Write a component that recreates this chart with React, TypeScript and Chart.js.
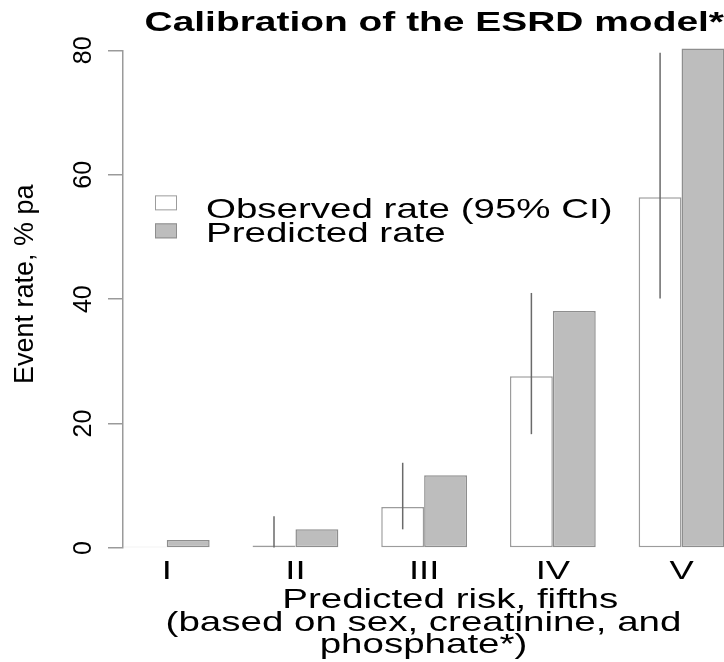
import { useEffect, useRef } from 'react';
import { Chart, registerables } from 'chart.js';

Chart.register(...registerables);

// ---- data ----
const categories = ['I', 'II', 'III', 'IV', 'V'];
const observedRate = [0.2, 0.4, 6.6, 27.6, 56.4];
const observedLower: (number | null)[] = [null, 0.1, 3.0, 18.3, 40.1];
const observedUpper: (number | null)[] = [null, 5.1, 13.7, 41.0, 79.6];
const predictedRate = [1.3, 3.0, 11.7, 38.1, 80.3];
const yTickValues = [0, 20, 40, 60, 80];
const legendLabels = ['Observed rate (95% CI)', 'Predicted rate'];
const chartTitle = 'Calibration of the ESRD model*';
const yTitle = '    Event rate, % pa';
const xTitle = ['     Predicted risk, fifths', '(based on sex, creatinine, and', 'phosphate*)'];

// ---- styling ----
const FONT = "'Liberation Sans', Arial, Helvetica, sans-serif";
const SX = 1.4; // horizontal text in the reference is stretched horizontally
const OBS_FILL = '#ffffff';
const OBS_BORDER = '#9c9c9c';
const PRED_FILL = '#bdbdbd';
const PRED_BORDER = '#8e8e8e';
const AXIS_COLOR = '#9a9a9a';
const ERR_COLOR = '#6a6a6a';

const errorBarPlugin = {
  id: 'errorBars',
  afterDatasetsDraw(chart: any) {
    const { ctx } = chart;
    const meta = chart.getDatasetMeta(0);
    const yScale = chart.scales.y;
    ctx.save();
    ctx.strokeStyle = ERR_COLOR;
    ctx.lineWidth = 1.5;
    meta.data.forEach((bar: any, i: number) => {
      const lo = observedLower[i];
      const hi = observedUpper[i];
      if (lo == null || hi == null) return;
      ctx.beginPath();
      ctx.moveTo(bar.x, yScale.getPixelForValue(lo));
      ctx.lineTo(bar.x, yScale.getPixelForValue(hi));
      ctx.stroke();
    });
    ctx.restore();
  },
};

const legendPlugin = {
  id: 'insetLegend',
  afterDraw(chart: any) {
    const { ctx, chartArea } = chart;
    const x0 = chartArea.left + 32;
    const rows = [
      { top: chartArea.top + 145, baseline: chartArea.top + 168, fill: OBS_FILL, border: OBS_BORDER },
      { top: chartArea.top + 173, baseline: chartArea.top + 192, fill: PRED_FILL, border: PRED_BORDER },
    ];
    ctx.save();
    rows.forEach((r, i) => {
      ctx.fillStyle = r.fill;
      ctx.fillRect(x0, r.top, 22, 15);
      ctx.strokeStyle = r.border;
      ctx.lineWidth = 1;
      ctx.strokeRect(x0 + 0.5, r.top + 0.5, 21, 14);
      ctx.fillStyle = '#000';
      ctx.font = `27.5px ${FONT}`;
      ctx.textAlign = 'left';
      ctx.textBaseline = 'alphabetic';
      ctx.fillText(legendLabels[i], x0 + 51, r.baseline);
    });
    ctx.restore();
  },
};

export default function App() {
  const ref = useRef<HTMLCanvasElement>(null);

  useEffect(() => {
    const canvas = ref.current;
    if (!canvas) return;
    const ctx = canvas.getContext('2d') as any;
    const protoFill = CanvasRenderingContext2D.prototype.fillText;
    ctx.fillText = function (text: string, x: number, y: number, maxWidth?: number) {
      const m = this.getTransform();
      if (Math.abs(m.b) < 1e-6 && Math.abs(m.c) < 1e-6) {
        this.save();
        this.translate(x, y);
        this.scale(SX, 1);
        if (maxWidth === undefined || maxWidth === null) protoFill.call(this, text, 0, 0);
        else protoFill.call(this, text, 0, 0, maxWidth / SX);
        this.restore();
      } else if (maxWidth === undefined || maxWidth === null) {
        protoFill.call(this, text, x, y);
      } else {
        protoFill.call(this, text, x, y, maxWidth);
      }
    };

    const chart = new Chart(canvas, {
      type: 'bar',
      data: {
        datasets: [
          {
            label: legendLabels[0],
            data: observedRate.map((v, i) => ({ x: i, y: v })),
            backgroundColor: OBS_FILL,
            borderColor: OBS_BORDER,
            borderWidth: 1.5,
            borderSkipped: false,
            categoryPercentage: 2 / 3,
            barPercentage: 1,
            clip: false,
          },
          {
            label: legendLabels[1],
            data: predictedRate.map((v, i) => ({ x: i, y: v })),
            backgroundColor: PRED_FILL,
            borderColor: PRED_BORDER,
            borderWidth: 1.5,
            borderSkipped: false,
            categoryPercentage: 2 / 3,
            barPercentage: 1,
            clip: false,
          },
        ],
      },
      options: {
        responsive: false,
        animation: false,
        devicePixelRatio: 1,
        events: [],
        layout: { padding: { left: 9, right: 0, top: 0, bottom: 0 } },
        plugins: {
          legend: { display: false },
          tooltip: { enabled: false },
          title: {
            display: true,
            text: chartTitle,
            align: 'end',
            color: '#000',
            font: { family: FONT, size: 27.8, weight: 'bold' },
            padding: { top: 7, bottom: 10 },
          },
        },
        scales: {
          x: {
            type: 'linear',
            min: -0.34,
            max: 4.33,
            offset: false,
            bounds: 'data',
            grid: { display: false, drawTicks: false, offset: false },
            border: { display: false },
            afterBuildTicks: (scale: any) => {
              scale.ticks = categories.map((_, i) => ({ value: i }));
            },
            ticks: {
              autoSkip: false,
              maxRotation: 0,
              minRotation: 0,
              padding: 8,
              color: '#000',
              font: { family: FONT, size: 26 },
              callback: (v: any) => categories[Math.round(Number(v))] ?? '',
            },
            title: {
              display: true,
              text: xTitle,
              color: '#000',
              font: { family: FONT, size: 27.5, lineHeight: 0.82 },
              padding: { top: 0, bottom: 5 },
            },
            afterFit: (scale: any) => {
              scale.height = 114;
            },
          },
          y: {
            type: 'linear',
            position: 'left',
            min: 0,
            max: 80,
            afterBuildTicks: (scale: any) => {
              scale.ticks = yTickValues.map((v) => ({ value: v }));
            },
            afterCalculateLabelRotation: (scale: any) => {
              scale.labelRotation = 90;
            },
            grid: {
              display: true,
              drawOnChartArea: false,
              drawTicks: true,
              tickLength: 15,
              color: AXIS_COLOR,
              lineWidth: 1.5,
            },
            border: { display: true, color: AXIS_COLOR, width: 1.5 },
            ticks: {
              minRotation: 90,
              maxRotation: 90,
              crossAlign: 'center',
              padding: 10,
              color: '#000',
              font: { family: FONT, size: 25 },
            },
            title: {
              display: true,
              text: yTitle,
              color: '#000',
              font: { family: FONT, size: 27 },
              padding: { top: 0, bottom: 0 },
            },
            afterFit: (scale: any) => {
              scale.width = 114;
            },
          },
        },
      } as any,
      plugins: [errorBarPlugin, legendPlugin],
    });

    return () => {
      chart.destroy();
      delete ctx.fillText;
    };
  }, []);

  return (
    <div
      style={{
        position: 'fixed',
        left: 0,
        top: 0,
        width: 724,
        height: 662,
        overflow: 'hidden',
        background: '#ffffff',
      }}
    >
      <canvas ref={ref} width={724} height={662} style={{ display: 'block' }} />
    </div>
  );
}
